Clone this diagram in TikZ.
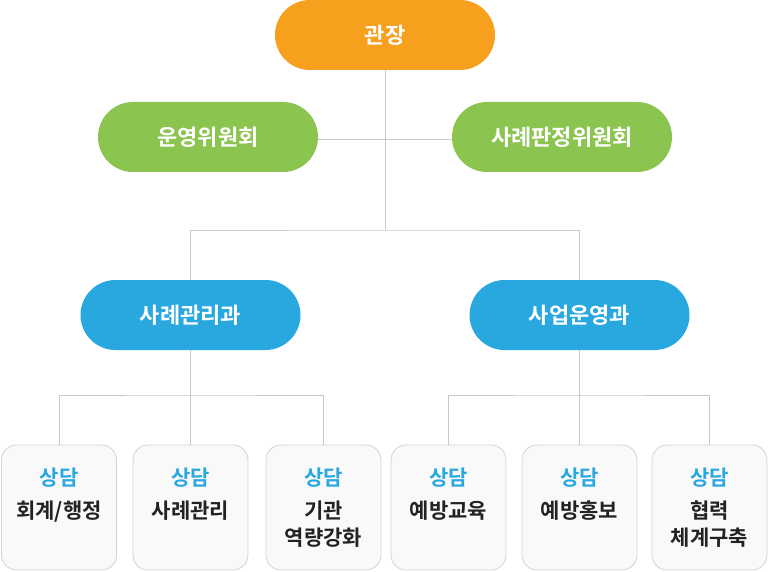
\documentclass[tikz,border=0pt]{standalone}
\usepackage{fontspec}
\usepackage{xcolor}
\usepackage{tikz}
\usetikzlibrary{positioning}
\setmainfont{Noto Sans CJK KR}[BoldFont={Noto Sans CJK KR Bold}]
\definecolor{chief}{HTML}{F7A01E}
\definecolor{board}{HTML}{8BC550}
\definecolor{dept}{HTML}{29A8E0}
\definecolor{wire}{HTML}{C8C8C8}
\definecolor{cellfill}{HTML}{F9F9F9}
\definecolor{cellline}{HTML}{D3D3D3}
\definecolor{ink}{HTML}{222222}

\begin{document}
\begin{tikzpicture}[x=1pt, y=-1pt,
  pill/.style={rectangle, rounded corners=35pt, minimum width=220pt,
    minimum height=70pt, text=white, font=\fontsize{22}{26}\selectfont\bfseries},
  cell/.style={rectangle, rounded corners=15pt, draw=cellline, fill=cellfill,
    line width=0.8pt, minimum width=115pt, minimum height=125pt},
  celltxt/.style={anchor=north, align=center, text=ink,
    font=\fontsize{21}{27}\selectfont\bfseries},
  link/.style={draw=wire, line width=1pt}]
\useasboundingbox (0,0) rectangle (768,572);
\node[pill, fill=chief] (head) at (385, 35) {관장};
\node[pill, fill=board] (ops) at (208, 137) {운영위원회};
\node[pill, fill=board] (case) at (562, 137) {사례판정위원회};
\node[pill, fill=dept] (mgmt) at (190.5, 315) {사례관리과};
\node[pill, fill=dept] (biz) at (579.5, 315) {사업운영과};
\coordinate (split) at (385, 230);
\coordinate (lsplit) at (190.5, 395);
\coordinate (rsplit) at (579.5, 395);
\node[cell] (c1) at (59, 507.5) {};
\node[cell] (c2) at (190.5, 507.5) {};
\node[cell] (c3) at (323.5, 507.5) {};
\node[cell] (c4) at (448.5, 507.5) {};
\node[cell] (c5) at (579.5, 507.5) {};
\node[cell] (c6) at (709.5, 507.5) {};
\foreach \i/\t in {1/{회계/행정}, 2/사례관리, 3/{기관\\역량강화},
    4/예방교육, 5/예방홍보, 6/{협력\\체계구축}}
  \node[celltxt, below=20pt of c\i.north] (t\i)
    {\textcolor{dept}{상담}\\[6pt]\t};
\draw[link] (head) -- (split);
\draw[link] ([yshift=-3pt]ops.east) -- ([yshift=-3pt]case.west);
\draw[link] (mgmt) |- (split) -| (biz);
\draw[link] (mgmt) -- (c2);
\draw[link] (c1) |- (lsplit) -| (c3);
\draw[link] (biz) -- (c5);
\draw[link] (c4) |- (rsplit) -| (c6);
\end{tikzpicture}
\end{document}
